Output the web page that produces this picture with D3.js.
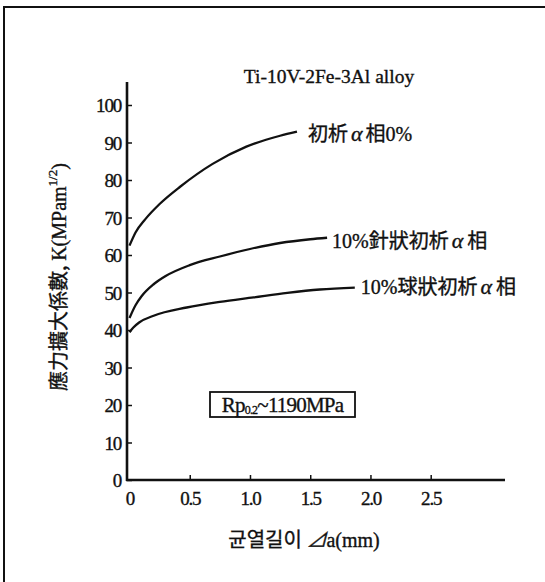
<!DOCTYPE html>
<html>
<head>
<meta charset="utf-8">
<script src="https://cdn.jsdelivr.net/npm/d3@7"></script>
<style>
  html, body { margin: 0; padding: 0; background: #fff; }
  svg { display: block; }
  text { fill: #111; stroke: #111; stroke-width: 0.35px; }
</style>
</head>
<body>
<svg id="chart" width="545" height="582"></svg>
<script>
// Crack growth (mm) vs stress intensity factor K for three microstructures
const xTicks = [0, 0.5, 1.0, 1.5, 2.0, 2.5];
const xTickLabels = ["0", "0.5", "1.0", "1.5", "2.0", "2.5"];
const yTicks = [0, 10, 20, 30, 40, 50, 60, 70, 80, 90, 100];

const seriesNames = ["初析α相0%", "10%針狀初析α相", "10%球狀初析α相"];

const crackLen0 = [0, 0.05, 0.13, 0.25, 0.42, 0.69, 0.97, 1.25, 1.39];
const kValues0  = [62.5, 66.0, 69.5, 73.6, 78.2, 84.3, 88.9, 91.8, 92.9];

const crackLen1 = [0, 0.05, 0.1, 0.2, 0.3, 0.5, 0.75, 1.0, 1.25, 1.5, 1.64];
const kValues1  = [43.2, 46.6, 49.0, 52.2, 54.4, 57.3, 59.6, 61.6, 63.2, 64.2, 64.6];

const crackLen2 = [0, 0.03, 0.08, 0.2, 0.475, 0.75, 1.03, 1.31, 1.58, 1.87];
const kValues2  = [39.4, 40.6, 42.0, 43.8, 46.0, 47.5, 48.7, 49.9, 50.8, 51.3];

const series = [
  { name: seriesNames[0], x: crackLen0, y: kValues0 },
  { name: seriesNames[1], x: crackLen1, y: kValues1 },
  { name: seriesNames[2], x: crackLen2, y: kValues2 }
];

const serif = "'Liberation Serif', 'Noto Sans CJK JP', serif";
const cjk = "'Noto Sans CJK JP', sans-serif";
const svg = d3.select("#chart");

// outer frame (top and left edges)
svg.append("path")
  .attr("d", "M4,582 L4,7 L545,7")
  .attr("fill", "none").attr("stroke", "#111").attr("stroke-width", 2);

const x = d3.scaleLinear().domain([0, 2.5]).range([129.5, 430.7]);
const y = d3.scaleLinear().domain([0, 100]).range([480, 105]);

// axis lines
svg.append("line").attr("x1", 127).attr("x2", 127).attr("y1", 82).attr("y2", 481)
  .attr("stroke", "#111").attr("stroke-width", 2.6);
svg.append("line").attr("x1", 126).attr("x2", 505).attr("y1", 480).attr("y2", 480)
  .attr("stroke", "#111").attr("stroke-width", 2.6);

// y axis ticks and labels
const yAxis = d3.axisRight(y).tickValues(yTicks).tickSize(5).tickFormat(d3.format("d"));
const gy = svg.append("g").attr("transform", "translate(127,0)").call(yAxis);
gy.select(".domain").remove();
gy.selectAll(".tick line").attr("stroke", "#111").attr("stroke-width", 1.5);
gy.selectAll(".tick text")
  .attr("x", -6).attr("text-anchor", "end").attr("dy", "0.36em")
  .attr("font-family", serif).attr("font-size", 19).attr("letter-spacing", -1.2)
  .attr("fill", "#111");

// x axis ticks and labels
const xAxis = d3.axisTop(x).tickValues(xTicks).tickSize(5)
  .tickFormat((d, i) => xTickLabels[i]);
const gx = svg.append("g").attr("transform", "translate(0,480)").call(xAxis);
gx.select(".domain").remove();
gx.selectAll(".tick line").attr("stroke", "#111").attr("stroke-width", 1.5)
  .attr("y2", d => d === 0 ? 0 : -5);
gx.selectAll(".tick text")
  .attr("y", 25).attr("dy", 0).attr("text-anchor", "middle")
  .attr("font-family", serif).attr("font-size", 19).attr("letter-spacing", -1.2)
  .attr("fill", "#111");

// curves
const line = d3.line()
  .x(d => x(d[0]))
  .y(d => y(d[1]))
  .curve(d3.curveMonotoneX);

series.forEach(s => {
  const pts = s.x.map((v, i) => [v, s.y[i]]);
  svg.append("path")
    .datum(pts)
    .attr("d", line)
    .attr("fill", "none")
    .attr("stroke", "#111")
    .attr("stroke-width", 2.3);
});

// curve labels
function seriesLabel(parts, px, py) {
  const t = svg.append("text").attr("x", px).attr("y", py)
    .attr("font-size", 20).attr("font-family", serif);
  parts.forEach(p => {
    const ts = t.append("tspan").text(p.t);
    if (p.italic) ts.attr("font-style", "italic").attr("font-family", "'Liberation Serif', serif")
      .attr("font-size", 22);
    if (p.cjk) ts.attr("font-family", cjk);
    if (p.gap) ts.attr("dx", p.gap);
  });
}
const lastPt = s => [x(s.x[s.x.length - 1]), y(s.y[s.y.length - 1])];
const p0 = lastPt(series[0]);
seriesLabel([{ t: "初析", cjk: true }, { t: "α", italic: true, gap: 3 }, { t: "相", cjk: true, gap: 3 }, { t: "0%" }], p0[0] + 11, 141);
const p1 = lastPt(series[1]);
seriesLabel([{ t: "10%" }, { t: "針狀初析", cjk: true }, { t: "α", italic: true, gap: 3 }, { t: "相", cjk: true, gap: 4 }], p1[0] + 5, 248);
const p2 = lastPt(series[2]);
seriesLabel([{ t: "10%" }, { t: "球狀初析", cjk: true }, { t: "α", italic: true, gap: 3 }, { t: "相", cjk: true, gap: 4 }], p2[0] + 6, 294);

// title
svg.append("text").attr("x", 329).attr("y", 83).attr("text-anchor", "middle")
  .attr("font-family", serif).attr("font-size", 19.5)
  .text("Ti-10V-2Fe-3Al alloy");

// y axis title
const yt = svg.append("text")
  .attr("transform", "translate(66,277) rotate(-90)")
  .attr("text-anchor", "middle")
  .attr("font-family", serif).attr("font-size", 20);
yt.append("tspan").attr("font-family", cjk).text("應力擴大係數, ");
yt.append("tspan").text("K(MPam");
yt.append("tspan").attr("font-size", 13).attr("dy", -9).text("1/2");
yt.append("tspan").attr("dy", 9).text(")");

// x axis title
const xt = svg.append("text").attr("x", 304).attr("y", 547).attr("text-anchor", "middle")
  .attr("font-family", serif).attr("font-size", 20);
xt.append("tspan").attr("font-family", "'Noto Sans CJK KR', sans-serif").text("균열길이 ");
xt.append("tspan").attr("font-family", cjk).attr("font-style", "italic").text("⊿");
xt.append("tspan").text("a(mm)");

// yield strength box
svg.append("rect").attr("x", 210).attr("y", 392).attr("width", 145).attr("height", 25)
  .attr("fill", "none").attr("stroke", "#111").attr("stroke-width", 1.8);
const bt = svg.append("text").attr("x", 282.5).attr("y", 412).attr("text-anchor", "middle")
  .attr("font-family", serif).attr("font-size", 21).attr("letter-spacing", -0.8);
bt.append("tspan").text("Rp");
bt.append("tspan").attr("font-size", 12).attr("dy", 2).text("0.2");
bt.append("tspan").attr("dy", -2).text("~1190MPa");
</script>
</body>
</html>
